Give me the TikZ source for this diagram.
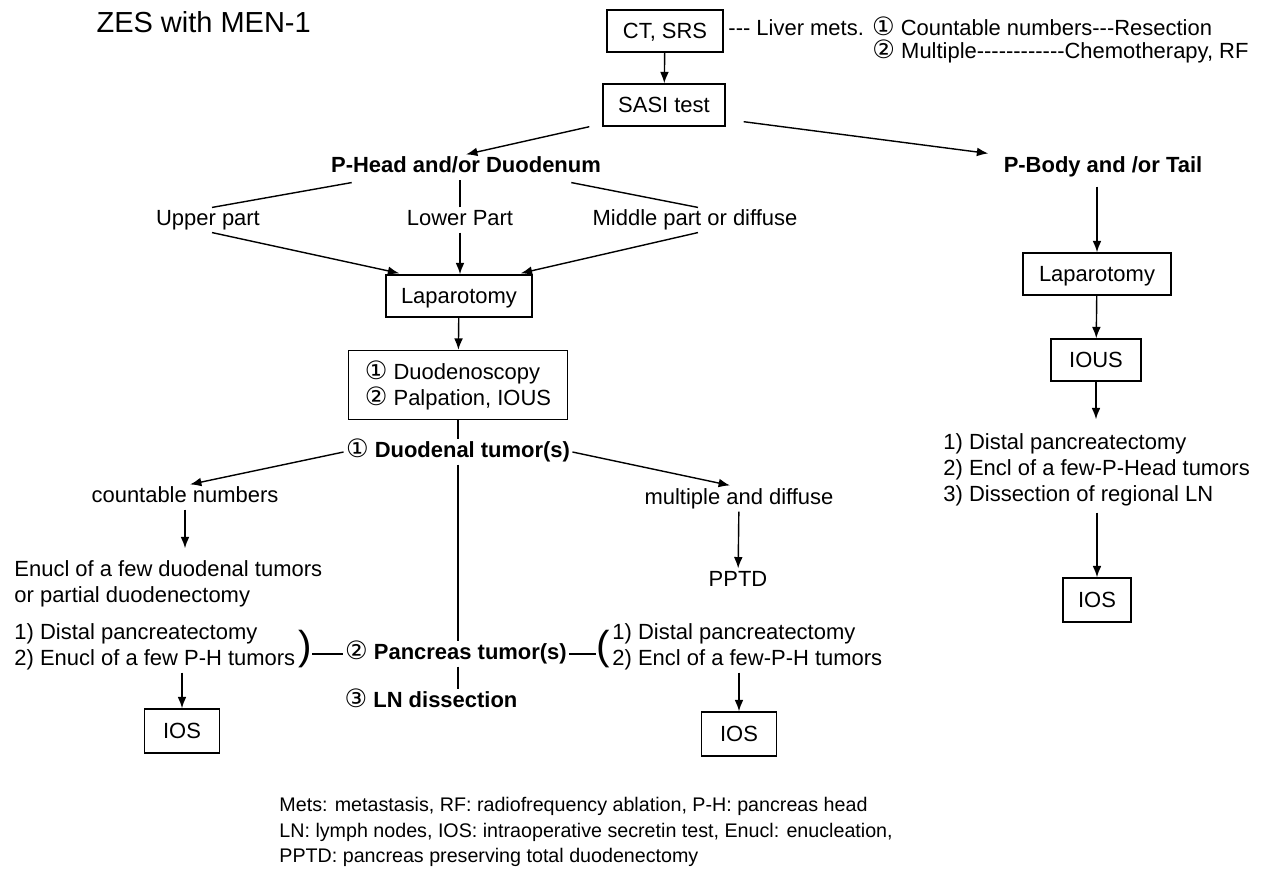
\documentclass[tikz,border=0pt]{standalone}
\usepackage{fontspec}
\setmainfont{Liberation Sans}
\newfontfamily\circfont[Scale=1.15]{DejaVu Sans}
\usetikzlibrary{arrows, arrows.meta, calc}
\tikzstyle{lbl}=[inner sep=1pt, text height=9pt, text depth=2.5pt]
\tikzstyle{hd}=[lbl, execute at begin node=\bfseries]
\tikzstyle{lst}=[inner sep=1pt, align=left, anchor=west]
\tikzstyle{box}=[draw, inner sep=1pt, text height=9.5pt, text depth=1.5pt,
    text centered, minimum height=0.84cm]
\tikzstyle{lap}=[box, minimum width=2.92cm]
\tikzstyle{ios}=[box, minimum width=1.5cm, minimum height=0.88cm]
\tikzstyle{paren}=[inner sep=0pt, font=\fontsize{23}{23}\selectfont]
\newcommand{\cn}[1]{{\circfont #1}}
\newcommand{\hy}{\mbox{-}}

\begin{document}
\begin{tikzpicture}[x=0.02cm, y=-0.02cm, line width=0.8pt,
    >={Latex[length=6.5pt,width=5pt]}, font=\fontsize{12.5}{14.8}\selectfont]
    \useasboundingbox (0,0) rectangle (1265,869);
    \node (title) [anchor=west, font=\fontsize{16.5}{20}\selectfont] at (90,22) {ZES with MEN-1};
    \node (ct) [box, minimum width=2.32cm] at (665,31) {CT, SRS};
    \node (mets) [lbl, anchor=west] at (726,30) {\hy\hy\hy{} Liver mets. \cn{①} Countable numbers\hy\hy\hy Resection};
    \node (mets2) [lbl, anchor=west] at (870,53) {\cn{②} Multiple\hy\hy\hy\hy\hy\hy\hy\hy\hy\hy\hy\hy Chemotherapy, RF};
    \node (sasi) [box, minimum width=2.44cm] at (664,105) {SASI test};
    \draw[->] (ct) -- (sasi);

    \node (phead) [hd] at (466,167) {P-Head and/or Duodenum};
    \node (pbody) [hd] at (1103,167) {P-Body and /or Tail};
    \draw[->] ($(sasi.south west)+(-13,0)$) -- (phead.north);
    \draw[->] ($(sasi.south east)+(18,-5)$) -- ($(pbody.north west)+(-13,-1)$);

    \node (upper) [lbl] at (208,220) {Upper part};
    \node (lower) [lbl] at (460,220) {Lower Part};
    \node (middle) [lbl] at (695,220) {Middle part or diffuse};
    \draw ($(phead.south west)+(23,3)$) -- ($(upper.north)+(4,0)$);
    \draw (lower.north) -- (lower.north |- phead.south);
    \draw ($(phead.south east)+(-32,3)$) -- ($(middle.north)+(3,0)$);

    \node (lapl) [lap] at (459,296) {Laparotomy};
    \draw[->] ($(upper.south)+(4,0)$) -- ($(lapl.north west)+(14,-1)$);
    \draw[->] (lower.south) -- (lower.south |- lapl.north);
    \draw[->] ($(middle.south)+(3,0)$) -- ($(lapl.north east)+(-12,-1)$);

    \node (duo) [draw, align=left, minimum width=4.38cm, minimum height=1.38cm] at (458,385)
        {\cn{①} Duodenoscopy\\\cn{②} Palpation, IOUS};
    \draw[->] (lapl) -- (duo);
    \node (duot) [lbl] at (458,452) {\cn{①} \textbf{Duodenal tumor(s)}};
    \draw (duo) -- (duot);

    \node (countable) [lbl] at (185,497) {countable numbers};
    \node (multiple) [lbl] at (739,499) {multiple and diffuse};
    \draw[->] (duot.west) -- ($(countable.north)+(5,0)$);
    \draw[->] (duot.east) -- ($(multiple.north)+(-9,-1)$);
    \node (enucl) [lst] at (12,584) {Enucl of a few duodenal tumors\\or partial duodenectomy};
    \draw[->] (countable.south) -- ($(countable.south |- enucl.north)+(0,-10)$);
    \node (pptd) [lbl] at (738,581) {PPTD};
    \draw[->] (multiple) -- (pptd);

    \node (panc) [lbl] at (456,654) {\cn{②} \textbf{Pancreas tumor(s)}};
    \node (ln) [lbl] at (431,702) {\cn{③} \textbf{LN dissection}};
    \draw (duot.south) -- (duot.south |- panc.north);
    \draw (duot.south |- panc.south) -- (duot.south |- ln.north);
    \node (rparen) [paren] at (305,649) {)};
    \node (lparen) [paren] at (603,649) {(};
    \draw (panc.west) -- (panc.west -| rparen.east);
    \draw (panc.east) -- (panc.east -| lparen.west);
    \node (dpl) [lst] at (12,647) {1) Distal pancreatectomy\\2) Enucl of a few P-H tumors};
    \node (dpr) [lst] at (610,647) {1) Distal pancreatectomy\\2) Encl of a few-P-H tumors};
    \node (iosl) [ios] at (182,731) {IOS};
    \node (iosm) [ios] at (739,734) {IOS};
    \draw[->] (iosl.north |- dpl.south) -- (iosl.north);
    \draw[->] (iosm.north |- dpr.south) -- (iosm.north);

    \node (lapr) [lap, minimum width=2.96cm] at (1097,274) {Laparotomy};
    \draw[->] ($(lapr.north |- pbody.south)+(0,7)$) -- (lapr.north);
    \node (ious) [box, minimum width=1.8cm] at (1096,360) {IOUS};
    \draw[->] (lapr) -- (ious);
    \node (dpb) [lst] at (941,470) {1) Distal pancreatectomy\\2) Encl of a few-P-Head tumors\\3) Dissection of regional LN};
    \node (iosr) [ios, minimum width=1.36cm] at (1097,600) {IOS};
    \draw[->] (ious.south) -- ($(ious.south |- dpb.north)+(0,-12)$);
    \draw[->] ($(iosr.north |- dpb.south)+(0,4)$) -- (iosr.north);

    \node (notes) [lst, font=\fontsize{11.2}{14.7}\selectfont] at (277,832)
        {Mets: metastasis, RF: radiofrequency ablation, P-H: pancreas head\\LN: lymph nodes, IOS: intraoperative secretin test, Enucl: enucleation,\\PPTD: pancreas preserving total duodenectomy};
\end{tikzpicture}
\end{document}
